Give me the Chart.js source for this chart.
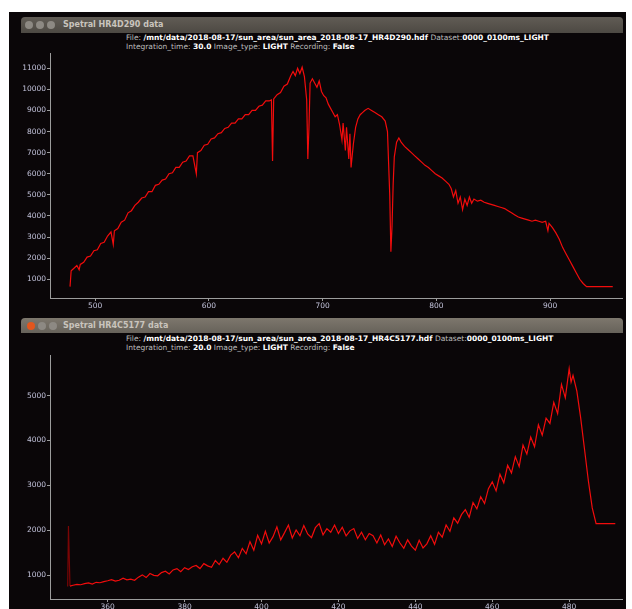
<!DOCTYPE html>
<html>
<head>
<meta charset="utf-8">
<script src="https://cdn.jsdelivr.net/npm/chart.js@4/dist/chart.umd.min.js"></script>
<style>
    body { margin: 0; background: #fff; width: 632px; height: 609px; overflow: hidden; position: relative; font-family: "DejaVu Sans", sans-serif; }
    #desk { position: absolute; left: 9px; top: 12px; width: 617px; height: 597px; background: #0a0608; }
    .bar { position: absolute; left: 21px; width: 602px; height: 16px; background: linear-gradient(#615c55, #4d4943); border-radius: 4px 4px 0 0; }
    .bar.active { background: linear-gradient(#7d776d, #67625a); }
    .btn { position: absolute; top: 4px; width: 8px; height: 8px; border-radius: 50%; background: #8d8983; }
    .btn.close { background: #e2561e; }
    .title { position: absolute; left: 42px; top: 0; line-height: 16px; font-size: 8px; font-weight: bold; color: #c9c4bd; }
    .info { position: absolute; left: 126px; font-size: 7.5px; line-height: 9px; color: #bdbdbd; white-space: nowrap; }
    .info b { color: #fff; }
    canvas { position: absolute; left: 22px; }
</style>
</head>
<body>
<div id="desk"></div>

<div class="bar" style="top:17px">
    <div class="btn" style="left:4px"></div>
    <div class="btn" style="left:15px"></div>
    <div class="btn" style="left:26px"></div>
    <div class="title">Spetral HR4D290 data</div>
</div>
<div class="info" style="top:33px">File: <b>/mnt/data/2018-08-17/sun_area/sun_area_2018-08-17_HR4D290.hdf</b> Dataset:<b>0000_0100ms_LIGHT</b></div>
<div class="info" style="top:42px">Integration_time: <b>30.0</b> Image_type: <b>LIGHT</b> Recording: <b>False</b></div>
<canvas id="topChart" width="601" height="264" style="top:48px"></canvas>

<div class="bar active" style="top:318px; height:15px">
    <div class="btn close" style="left:6px"></div>
    <div class="btn" style="left:17px"></div>
    <div class="btn" style="left:28px"></div>
    <div class="title" style="line-height:15px">Spetral HR4C5177 data</div>
</div>
<div class="info" style="top:334px">File: <b>/mnt/data/2018-08-17/sun_area/sun_area_2018-08-17_HR4C5177.hdf</b> Dataset:<b>0000_0100ms_LIGHT</b></div>
<div class="info" style="top:343px">Integration_time: <b>20.0</b> Image_type: <b>LIGHT</b> Recording: <b>False</b></div>
<canvas id="bottomChart" width="601" height="259" style="top:350px"></canvas>

<script>
// HR4D290 spectrum (wavelength nm / counts)
const topWavelengths = [
    478, 479, 481, 484, 486, 487, 490, 493, 496, 499, 502, 505, 508, 511, 514, 516, 517, 520, 523, 526,
    529, 532, 535, 538, 541, 544, 547, 550, 553, 556, 559, 562, 565, 568, 571, 574, 577, 580, 583, 586,
    589, 590, 593, 596, 599, 602, 605, 608, 611, 614, 617, 620, 623, 626, 629, 632, 635, 638, 641, 644,
    647, 650, 653, 655, 656, 657, 660, 663, 666, 669, 672, 674, 676, 678, 680, 682, 684, 686, 687, 688,
    689, 691, 693, 695, 697, 699, 701, 703, 705, 707, 709, 711, 713, 715, 717, 718, 720, 721, 723, 724,
    725, 727, 729, 731, 733, 735, 737, 740, 743, 746, 749, 752, 755, 757, 759, 760, 761, 762, 763, 765,
    767, 769, 772, 775, 778, 781, 784, 787, 790, 793, 796, 799, 802, 805, 808, 811, 813, 815, 817, 819,
    821, 823, 825, 827, 829, 831, 833, 836, 839, 842, 845, 848, 851, 854, 857, 860, 863, 866, 869, 872,
    875, 878, 881, 884, 887, 890, 893, 896, 898, 899, 902, 905, 908, 911, 914, 917, 920, 923, 926, 929,
    932, 940, 955
];
const topCounts = [
    650, 1400, 1500, 1650, 1450, 1700, 1800, 2050, 2100, 2350, 2400, 2700, 2750, 3050, 3250, 2650, 3300, 3400, 3700, 3800,
    4150, 4250, 4500, 4650, 4850, 4900, 5150, 5150, 5450, 5500, 5700, 5750, 6000, 6050, 6300, 6300, 6550, 6600, 6850, 6850,
    6000, 7000, 7100, 7350, 7400, 7650, 7700, 7900, 7950, 8150, 8200, 8400, 8400, 8600, 8600, 8800, 8800, 9000, 9000, 9200,
    9250, 9450, 9450, 9500, 6600, 9550, 9750, 9850, 10150, 10250, 10650, 10850, 10650, 11000, 10750, 11050, 10600, 9500, 6700, 8200,
    10300, 10500, 10300, 10100, 10400, 9900, 9700, 9600, 9300, 9100, 8900, 8700, 8800, 8300, 7600, 8400, 7100, 8200, 6700, 7900,
    6300, 7400, 8200, 8600, 8800, 8900, 9000, 9100, 9000, 8900, 8800, 8700, 8500, 8000, 5000, 2300, 3500, 5500, 6800, 7500,
    7700, 7500, 7300, 7150, 7000, 6850, 6700, 6550, 6400, 6300, 6150, 6000, 5900, 5800, 5650, 5500, 5300, 4900, 5200, 4600,
    4900, 4300, 4800, 4500, 4900, 4600, 4800, 4700, 4750, 4650, 4600, 4550, 4500, 4450, 4400, 4350, 4250, 4150, 4050, 3950,
    3900, 3850, 3800, 3750, 3800, 3750, 3700, 3750, 3300, 3650, 3450, 3200, 2900, 2500, 2200, 1900, 1600, 1300, 1000, 800,
    650, 650, 650
];
const topXTicks = [500, 600, 700, 800, 900];
const topYTicks = [1000, 2000, 3000, 4000, 5000, 6000, 7000, 8000, 9000, 10000, 11000];

// HR4C5177 spectrum
const bottomWavelengths = [
    349.6, 349.8, 350.2, 351, 352, 353, 354, 355, 356, 357, 358, 359, 360, 361, 362, 363, 364, 365, 366, 367,
    368, 369, 370, 371, 372, 373, 374, 375, 376, 377, 378, 379, 380, 381, 382, 383, 384, 385, 386, 387,
    388, 389, 390, 391, 392, 393, 394, 395, 396, 397, 398, 399, 400, 401, 402, 403, 404, 405, 406, 407,
    408, 409, 410, 411, 412, 413, 414, 415, 416, 417, 418, 419, 420, 421, 422, 423, 424, 425, 426, 427,
    428, 429, 430, 431, 432, 433, 434, 435, 436, 437, 438, 439, 440, 441, 442, 443, 444, 445, 446, 447,
    448, 449, 450, 451, 452, 453, 454, 455, 456, 457, 458, 459, 460, 461, 462, 463, 464, 465, 466, 467,
    468, 469, 470, 471, 472, 473, 474, 475, 476, 477, 478, 479, 480, 480.5, 481, 482, 483, 484, 485, 486,
    487, 492
];
const bottomCounts = [
    750, 2100, 760,
    780, 800, 790, 815, 830, 805, 845, 835, 860, 880,
    905, 870, 890, 935, 900, 915, 890, 960, 1010, 950,
    1040, 1000, 990, 1060, 1090, 1030, 1120, 1150, 1080, 1170,
    1130, 1190, 1220, 1150, 1260, 1210, 1180, 1330, 1240, 1380,
    1290, 1450, 1520, 1390, 1600, 1480, 1750, 1560, 1890, 1700,
    1980, 1720, 1860, 2080, 1790, 1950, 2120, 1830, 2010, 1880,
    2110, 1920, 1840, 2060, 2150, 1900, 2040, 1960, 2120, 1930,
    2070, 1880, 1990, 2040, 1820, 1960, 1790, 1930, 1880, 1720,
    1900, 1680, 1810, 1640, 1870, 1720, 1600, 1790, 1650, 1560,
    1780, 1610, 1700, 1880, 1690, 1960, 1850, 2120, 1980, 2280,
    2160, 2350, 2460, 2290, 2620, 2480, 2750, 2600, 2930, 3080,
    2880, 3250, 3060, 3450, 3280, 3640, 3420, 3900, 3700, 4080,
    3860, 4350, 4120, 4500, 4380, 4850, 4600, 5250, 4950, 5600,
    5300,
    5450, 5100, 4500, 3800, 3100, 2500, 2150,
    2150
];
const bottomXTicks = [360, 380, 400, 420, 440, 460, 480];
const bottomYTicks = [1000, 2000, 3000, 4000, 5000];

const axisColor = '#9c9c9c';
const labelColor = '#c2c2da';

function axisOptions(min, max, tickValues, fit) {
    return {
        type: 'linear',
        min: min,
        max: max,
        afterBuildTicks: s => { s.ticks = tickValues.map(v => ({ value: v })); },
        afterFit: fit,
        grid: { display: true, drawOnChartArea: false, drawTicks: true, tickLength: 3, color: axisColor },
        border: { display: true, color: axisColor, width: 1 },
        ticks: {
            color: labelColor,
            font: { size: 7.5, family: 'DejaVu Sans' },
            padding: 1,
            maxRotation: 0,
            autoSkip: false,
            callback: v => String(v)   // no thousands separator
        }
    };
}

function makeSpectrum(id, xs, ys, xTicks, yTicks, xMin, xMax, yMin, yMax, xAxisHeight) {
    const points = xs.map((x, i) => ({ x: x, y: ys[i] }));
    new Chart(document.getElementById(id), {
        type: 'line',
        data: {
            datasets: [{
                data: points,
                borderColor: '#f20c0c',
                borderWidth: 1.2,
                pointRadius: 0,
                tension: 0,
                segment: {
                    // the lone spike at the start of the blue spectrum is drawn darker
                    borderColor: ctx => (id === 'bottomChart' && ctx.p0DataIndex < 2) ? '#7a0505' : undefined
                }
            }]
        },
        options: {
            responsive: false,
            animation: false,
            devicePixelRatio: 1,
            layout: { padding: { top: 2, right: 0, left: 0, bottom: 0 } },
            scales: {
                x: axisOptions(xMin, xMax, xTicks, s => { s.height = xAxisHeight; }),
                y: axisOptions(yMin, yMax, yTicks, s => { s.width = 28; })
            },
            plugins: { legend: { display: false }, tooltip: { enabled: false } }
        }
    });
}

makeSpectrum('topChart', topWavelengths, topCounts, topXTicks, topYTicks, 460.4, 964, 112, 11700, 14);
makeSpectrum('bottomChart', bottomWavelengths, bottomCounts, bottomXTicks, bottomYTicks, 345, 494, 473, 5893, 10);
</script>
</body>
</html>
